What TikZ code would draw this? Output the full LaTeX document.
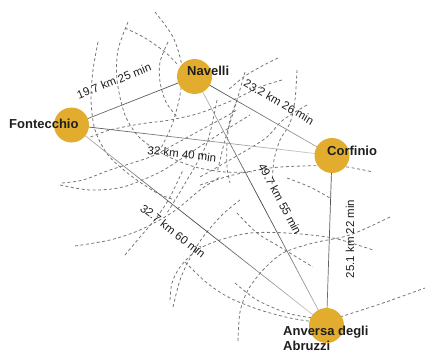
\documentclass[tikz,border=0pt]{standalone}
\usepackage{fontspec}
\setmainfont{Liberation Sans}
\usetikzlibrary{calc,backgrounds}
\definecolor{gold}{HTML}{E2AC2E}
\definecolor{txt}{HTML}{1E1E1E}
\definecolor{dashgray}{HTML}{777777}
\newcommand\gline[4]{%
  \foreach \k in {0,...,19}{%
    \pgfmathsetmacro\pc{#3+(#4-#3)*(\k+0.5)/20}%
    \pgfmathsetmacro\ta{\k/20}%
    \pgfmathsetmacro\tb{(\k+1)/20}%
    \draw[edge, draw=black!\pc] ($(#1)!\ta!(#2)$) -- ($(#1)!\tb!(#2)$);
  }}
\tikzset{
  city/.style={circle, fill=gold, draw=none, minimum size=35pt, inner sep=0pt},
  cityl/.style={font=\bfseries\fontsize{13}{14.5}\selectfont, text=txt, inner sep=0pt},
  elabel/.style={font=\fontsize{11.5}{13}\selectfont, text=txt, inner sep=0pt},
  edge/.style={line width=0.7pt},
  dasharc/.style={dashgray, line width=0.8pt, dash pattern=on 3pt off 2.5pt}
}
\begin{document}
\begin{tikzpicture}[x=1pt,y=-1pt]
\useasboundingbox (0,0) rectangle (425,353);
% cities
\node[city] (nav) at (194.5,76.5) {};
\node[city] (fon) at (71.5,125) {};
\node[city] (cor) at (332,155.5) {};
\node[city] (anv) at (326.5,325.5) {};
\node[cityl, anchor=base west] (navl) at (187,75) {Navelli};
\node[cityl, anchor=base west] (fonl) at (9,128) {Fontecchio};
\node[cityl, anchor=base west] (corl) at (327,155) {Corfinio};
\node[cityl, anchor=north west, align=left] (anvl) at (283,326.3) {Anversa degli\\Abruzzi};
% edge labels
\node[elabel, rotate=21.7] (l1) at (114,81) {19.7 km 25 min};
\node[elabel, rotate=-30] (l2) at (279,102) {23.2 km 26 min};
\node[elabel, rotate=-6.6] (l3) at (182,154) {32 km 40 min};
\node[elabel, rotate=-38] (l4) at (173,231) {32.7 km 60 min};
\node[elabel, rotate=-62] (l5) at (280,199) {49.7 km 55 min};
\node[elabel, rotate=90] (l6) at (350,239) {25.1 km 22 min};
\begin{pgfonlayer}{background}
% dashed arcs
\draw[dasharc] plot[smooth] coordinates {(128,22) (118,50) (117,80) (125,115) (140,138) (165,155) (195,167) (225,172) (252,172)};
\draw[dasharc] plot[smooth] coordinates {(155,12) (173,37) (182,67) (180,95) (172,125) (160,150)};
\draw[dasharc] plot[smooth] coordinates {(98,42) (93,70) (91,100) (95,130) (108,155) (130,175) (157,193) (175,200)};
\draw[dasharc] plot[smooth] coordinates {(125,28) (145,38) (165,52) (178,65)};
\draw[dasharc] plot[smooth] coordinates {(278,58) (262,66) (245,76) (228,90)};
\draw[dasharc] plot[smooth] coordinates {(297,70) (295,100) (290,123) (280,140) (274,160) (272,185)};
\draw[dasharc] plot[smooth] coordinates {(282,80) (260,87) (233,100) (200,113) (170,120) (140,124) (110,130) (88,138)};
\draw[dasharc] plot[smooth] coordinates {(245,72) (237,100) (225,140) (217,173)};
\draw[dasharc] plot[smooth] coordinates {(307,105) (283,120) (267,137) (247,150) (200,177)};
\draw[dasharc] plot[smooth] coordinates {(200,185) (233,175) (270,168) (303,166) (340,166) (373,172)};
\draw[dasharc] plot[smooth] coordinates {(287,178) (310,187) (330,198)};
\draw[dasharc] plot[smooth] coordinates {(390,217) (350,235) (313,243) (283,253) (263,270) (248,290) (240,312) (238,342)};
\draw[dasharc] plot[smooth] coordinates {(170,300) (172,283) (180,267) (197,250) (220,240) (250,233) (287,233) (333,238) (373,250)};
\draw[dasharc] plot[smooth] coordinates {(173,307) (180,280) (190,258) (203,237) (222,215) (240,200)};
\draw[dasharc] plot[smooth] coordinates {(237,213) (257,233) (280,247) (313,267)};
\draw[dasharc] plot[smooth] coordinates {(235,283) (257,300) (287,313) (313,318)};
\draw[dasharc] plot[smooth] coordinates {(340,317) (383,303) (425,288)};
\draw[dasharc] plot[smooth] coordinates {(62,183) (83,180) (110,170) (150,157) (177,143) (197,132) (223,118) (237,110)};
\draw[dasharc] plot[smooth] coordinates {(60,185) (90,190) (123,187) (160,172) (190,153) (210,140) (237,123) (250,115)};
\draw[dasharc] plot[smooth] coordinates {(75,246) (110,240) (140,230) (173,212) (200,190) (220,177)};
\draw[dasharc] plot[smooth] coordinates {(125,255) (140,237) (157,217) (170,197) (183,170)};
\draw[dasharc] plot[smooth] coordinates {(237,100) (230,120) (227,143) (227,167) (230,183)};
\draw[dasharc] plot[smooth] coordinates {(217,100) (213,120) (207,143) (197,163) (187,180) (177,197) (167,213)};
\draw[dasharc] plot[smooth] coordinates {(185,262) (207,283) (230,298) (260,310) (290,318) (315,322)};
\draw[dasharc] plot[smooth] coordinates {(168,42) (160,62) (160,82) (166,102) (177,117)};
% edges
\coordinate (fam) at ($(fon)!0.5!(anv)$);
\coordinate (nam) at ($(nav)!0.5!(anv)$);
\gline{fon}{nav}{55}{70}
\gline{nav}{cor}{75}{30}
\gline{fon}{cor}{70}{18}
\gline{fon}{fam}{25}{75}
\gline{fam}{anv}{75}{15}
\gline{nav}{nam}{20}{75}
\gline{nam}{anv}{75}{25}
\gline{cor}{anv}{72}{55}
\end{pgfonlayer}
\end{tikzpicture}
\end{document}
